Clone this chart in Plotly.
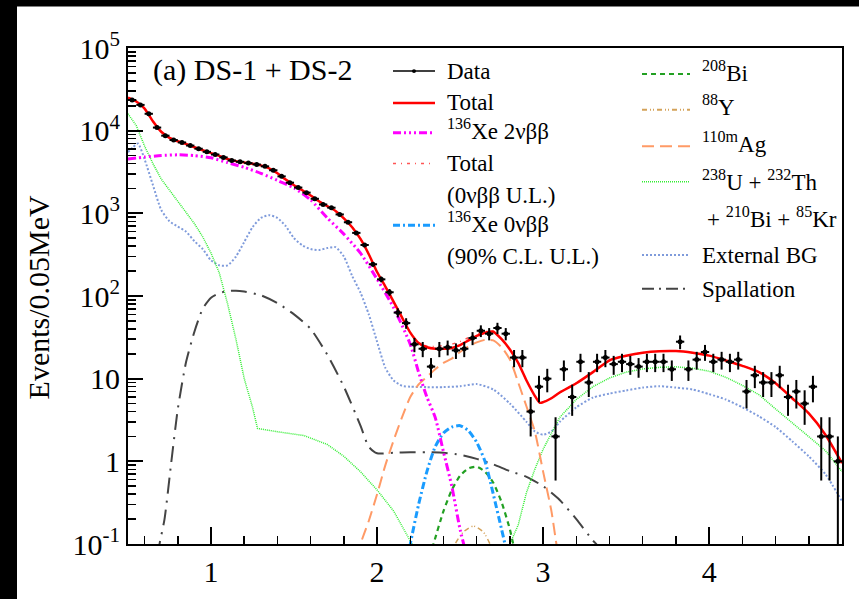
import numpy as np
import plotly.graph_objects as go

# ---------------- data ----------------
data_x = np.round(np.arange(0.525, 4.8, 0.05), 3)
data_y = [23500, 20500, 16000, 10900, 8700, 7700, 7200, 6600, 6050, 5550,
          5150, 4750, 4350, 4200, 4050, 3900, 3700, 3320, 2800, 2350,
          2050, 1780, 1500, 1280, 1170, 970, 780, 580, 414, 242,
          159, 111, 63, 47, 26, 23, 14, 23, 24, 22,
          23, 31, 38, 35, 41, 35, 18, 18, 4, 8,
          10, 2, 13, 6, 16, 9, 16, 18, 15, 16,
          15, 14, 16, 16, 16, 13, 28, 13, 17, 21,
          16, 17, 16, 17, 7, 11, 9, 9, 11, 6,
          7, 5, 8, 2, 2, 1]

tot_x = [0.5, 0.55, 0.6, 0.65, 0.7, 0.75, 0.8, 0.85, 0.9, 0.95, 1.0, 1.05, 1.1, 1.15, 1.2,
         1.25, 1.3, 1.35, 1.4, 1.45, 1.5, 1.55, 1.6, 1.65, 1.7, 1.75, 1.8, 1.85, 1.9, 1.95,
         2.0, 2.05, 2.1, 2.15, 2.2, 2.25, 2.3, 2.35, 2.4, 2.45, 2.5, 2.55, 2.6, 2.65, 2.7,
         2.75, 2.8, 2.85, 2.9, 2.95, 2.98, 3.0, 3.05, 3.1, 3.2, 3.3, 3.4, 3.5, 3.6, 3.7,
         3.8, 3.9, 4.0, 4.1, 4.2, 4.3, 4.4, 4.5, 4.6, 4.7, 4.8]
tot_y = [25000, 22500, 18500, 13000, 9700, 8200, 7450, 6900, 6300, 5800, 5350, 4950, 4550, 4280, 4120,
         3980, 3800, 3500, 3050, 2560, 2190, 1900, 1640, 1400, 1220, 1070, 870, 680, 490, 320,
         195, 130, 85, 55, 36, 27, 24, 23, 23, 23.5, 25.5, 29, 33, 36, 37,
         30, 22.5, 15.5, 9.5, 6.2, 5.1, 5.2, 5.8, 6.8, 8.8, 12.0, 16.7, 18.9, 20.6, 21.5,
         21.6, 20.6, 19.0, 16.6, 14.3, 12.0, 8.8, 5.8, 3.8, 2.1, 0.95]
totul_y = [25000, 22500, 18500, 13000, 9700, 8200, 7450, 6900, 6300, 5800, 5350, 4950, 4550, 4280, 4120,
           3980, 3800, 3500, 3050, 2560, 2190, 1900, 1640, 1400, 1220, 1070, 870, 680, 490, 320,
           195, 130, 85, 55, 36, 27.3, 24.8, 24.5, 25.2, 26.1, 28.2, 31.3, 34.7, 37, 37.4,
           30.2, 22.6, 15.5, 9.5, 6.2, 5.1, 5.2, 5.8, 6.8, 8.8, 12.0, 16.7, 18.9, 20.6, 21.5,
           21.6, 20.6, 19.0, 16.6, 14.3, 12.0, 8.8, 5.8, 3.8, 2.1, 0.95]

xe2v_x = [0.5, 0.6, 0.7, 0.8, 0.9, 1.0, 1.1, 1.2, 1.3, 1.4, 1.5, 1.6, 1.7, 1.8, 1.9, 2.0,
          2.1, 2.2, 2.25, 2.3, 2.35, 2.4, 2.45, 2.5, 2.55]
xe2v_y = [4550, 4800, 5000, 5100, 5000, 4700, 4100, 3600, 3050, 2500, 2030, 1450, 880, 560, 330, 160,
          72, 26, 12, 6, 3.4, 1.3, 0.5, 0.15, 0.06]

xe0v_x = [2.18, 2.2, 2.25, 2.3, 2.35, 2.4, 2.45, 2.5, 2.55, 2.6, 2.65, 2.7, 2.75, 2.77, 2.79]
xe0v_y = [0.06, 0.1, 0.3, 0.75, 1.5, 2.2, 2.6, 2.7, 2.35, 1.7, 1.0, 0.4, 0.15, 0.1, 0.06]

bi208_x = [2.32, 2.34, 2.4, 2.45, 2.5, 2.55, 2.6, 2.65, 2.7, 2.75, 2.8, 2.82, 2.84]
bi208_y = [0.07, 0.1, 0.25, 0.45, 0.67, 0.82, 0.86, 0.75, 0.55, 0.32, 0.15, 0.1, 0.07]

y88_x = [2.44, 2.47, 2.52, 2.58, 2.64, 2.68, 2.71]
y88_y = [0.07, 0.1, 0.14, 0.165, 0.14, 0.1, 0.07]

ag_x = [1.88, 1.9, 1.95, 2.0, 2.05, 2.1, 2.15, 2.2, 2.25, 2.3, 2.35, 2.4, 2.45, 2.5, 2.55,
        2.6, 2.65, 2.7, 2.75, 2.8, 2.85, 2.9, 2.95, 3.0, 3.05, 3.08, 3.1]
ag_y = [0.07, 0.1, 0.19, 0.4, 0.9, 1.8, 3.4, 6.0, 8.5, 10.5, 13, 15.5, 17.5, 21, 24.5,
        27.5, 29.5, 29, 24, 17, 9, 4.6, 2.3, 0.75, 0.25, 0.1, 0.06]

uth_x = [0.5, 0.55, 0.6, 0.65, 0.7, 0.75, 0.8, 0.85, 0.9, 0.95, 1.0, 1.05, 1.1, 1.15, 1.2,
         1.25, 1.28, 1.4, 1.5, 1.56, 1.7, 1.8, 1.9, 2.0, 2.1, 2.2, 2.21, 2.4, 2.6,
         2.8, 2.85, 2.9, 2.95, 3.0, 3.05, 3.1, 3.2, 3.3, 3.4, 3.5, 3.6, 3.7, 3.8, 3.9,
         4.0, 4.1, 4.2, 4.3, 4.4, 4.5, 4.6, 4.7, 4.8]
uth_y = [16000, 11500, 6500, 4000, 2600, 1900, 1400, 1000, 750, 520, 330, 190, 80, 30, 10,
         4.5, 2.5, 2.28, 2.15, 2.05, 1.6, 1.15, 0.75, 0.45, 0.25, 0.11, 0.1, 0.01, 0.01,
         0.1, 0.17, 0.42, 0.8, 1.4, 2.2, 3.4, 5.6, 8.0, 10.2, 12.0, 13.1, 13.7, 13.9, 13.4,
         12.3, 10.4, 8.3, 6.4, 4.3, 2.9, 2.0, 1.35, 0.75]

ext_x = [0.5, 0.53, 0.56, 0.6, 0.65, 0.7, 0.75, 0.8, 0.85, 0.9, 0.95, 1.0, 1.05, 1.1, 1.15,
         1.2, 1.25, 1.3, 1.35, 1.4, 1.45, 1.5, 1.55, 1.6, 1.65, 1.7, 1.75, 1.8, 1.85, 1.9,
         1.95, 2.0, 2.05, 2.1, 2.15, 2.2, 2.3, 2.4, 2.5, 2.6, 2.7, 2.8, 2.9, 2.95, 3.0,
         3.05, 3.1, 3.2, 3.3, 3.4, 3.5, 3.6, 3.7, 3.8, 3.9, 4.0, 4.1, 4.2, 4.3, 4.4,
         4.5, 4.6, 4.7, 4.8]
ext_y = [5500, 6300, 7000, 4500, 2200, 1100, 800, 690, 600, 460, 370, 270, 235, 235, 300,
         450, 680, 880, 950, 880, 700, 500, 410, 370, 360, 380, 390, 300, 175, 110,
         60, 28, 13.5, 9.5, 8.2, 8.0, 7.9, 7.9, 8.1, 8.6, 7.4, 5.0, 3.0, 2.3, 2.1,
         2.3, 3.0, 4.5, 5.9, 6.6, 7.2, 7.8, 8.1, 7.8, 7.4, 6.5, 5.6, 4.5, 3.5, 2.6,
         1.75, 1.15, 0.7, 0.33]

spal_x = [0.68, 0.69, 0.72, 0.76, 0.8, 0.85, 0.9, 0.95, 1.0, 1.05, 1.1, 1.15, 1.2, 1.3, 1.4,
          1.5, 1.6, 1.7, 1.8, 1.9, 1.95, 2.0, 2.1, 2.2, 2.3, 2.4, 2.5, 2.6, 2.7, 2.8,
          2.9, 3.0, 3.1, 3.2, 3.3, 3.32, 3.34]
spal_y = [0.07, 0.1, 0.2, 0.95, 4.3, 16, 37, 70, 95, 108, 115, 116, 113, 102, 82,
          60, 40, 19.5, 8, 2.7, 1.5, 1.25, 1.27, 1.29, 1.29, 1.27, 1.2, 1.07, 0.92, 0.76,
          0.65, 0.5, 0.34, 0.2, 0.11, 0.1, 0.07]

y_tickvals = [0.1, 1, 10, 100, 1000, 10000, 100000]
y_ticktext = ["10<sup>-1</sup>", "1", "10", "10<sup>2</sup>", "10<sup>3</sup>",
              "10<sup>4</sup>", "10<sup>5</sup>"]
y_minor = [m * 10.0 ** e for e in range(-1, 5) for m in range(2, 10)]
x_tickvals = [1, 2, 3, 4]
x_ticktext = ["1", "2", "3", "4"]

FONT = "Liberation Serif"

# -------------- colours / styles --------------
C_TOT = "#FF0000"
C_2V = "#FF00FF"
C_TUL = "#FF5555"
C_0V = "#1A9CFF"
C_BI = "#22A022"
C_Y = "#D4A25A"
C_AG = "#FF9A66"
C_UTH = "#33EE33"
C_EXT = "#7F9BDB"
C_SP = "#444444"

D_2V = "8px,3px,2px,3px,2px,3px,2px,3px"
D_TUL = "3px,5px,1px,5px"
D_0V = "7px,3px,2px,3px"
D_BI = "5px,4px"
D_Y = "5px,3px,1px,2px,1px,3px"
D_AG = "12px,6px"
D_UTH = "1px,1px"
D_EXT = "2px,2px"
D_SP = "16px,7px,2px,7px"

fig = go.Figure()


def curve(x, y, color, width, dash, shape="spline"):
    fig.add_trace(go.Scatter(x=x, y=y, mode="lines",
                             line=dict(color=color, width=width, dash=dash, shape=shape,
                                       smoothing=0.6),
                             showlegend=False, hoverinfo="skip"))


curve(spal_x, spal_y, C_SP, 2, D_SP)
curve(ext_x, ext_y, C_EXT, 2, D_EXT)
curve(uth_x, uth_y, C_UTH, 1.5, D_UTH, shape="linear")
curve(ag_x, ag_y, C_AG, 2, D_AG)
curve(y88_x, y88_y, C_Y, 1.5, D_Y)
curve(bi208_x, bi208_y, C_BI, 2.2, D_BI)
curve(xe0v_x, xe0v_y, C_0V, 3, D_0V)
curve(xe2v_x, xe2v_y, C_2V, 3, D_2V)
curve(tot_x, totul_y, C_TUL, 1.5, D_TUL)
curve(tot_x, tot_y, C_TOT, 2.5, "solid")

err_up = [float(np.sqrt(v)) for v in data_y]
err_dn = [min(float(np.sqrt(v)), v * 0.99) for v in data_y]
fig.add_trace(go.Scatter(
    x=data_x, y=data_y, mode="markers",
    marker=dict(color="black", size=5),
    error_y=dict(type="data", array=err_up, arrayminus=err_dn, color="black",
                 thickness=2, width=0),
    error_x=dict(type="constant", value=0.025, color="black", thickness=2, width=0),
    showlegend=False, hoverinfo="skip"))

# -------------- layout --------------
L, R, T, B = 128, 842, 48, 563
W, H = R - L, B - T


def px(x):
    return (x - L) / W


def py(y):
    return (B - y) / H


shapes = []
annotations = []

# black border of the scan
shapes.append(dict(type="rect", xref="paper", yref="paper", x0=px(-20), x1=px(17),
                   y0=py(620), y1=py(-20), fillcolor="black", line=dict(width=0), layer="above"))
shapes.append(dict(type="rect", xref="paper", yref="paper", x0=px(-20), x1=px(880),
                   y0=py(5), y1=py(-20), fillcolor="black", line=dict(width=0), layer="above"))


def leg_line(x0, x1, y, color, width, dash):
    shapes.append(dict(type="line", xref="paper", yref="paper", x0=px(x0), x1=px(x1),
                       y0=py(y), y1=py(y), line=dict(color=color, width=width, dash=dash)))


def leg_text(x, y, text, size=23):
    annotations.append(dict(xref="paper", yref="paper", x=px(x), y=py(y), text=text,
                            showarrow=False, xanchor="left", yanchor="middle",
                            font=dict(family=FONT, size=size, color="black")))


# left legend column
lx0, lx1, ltx = 393, 435, 445
leg_line(lx0, lx1, 72, "black", 1.5, "solid")
shapes.append(dict(type="circle", xref="paper", yref="paper", x0=px(412), x1=px(416),
                   y0=py(74), y1=py(70), fillcolor="black", line=dict(width=0)))
leg_text(ltx, 72, "Data")
leg_line(lx0, lx1, 105, C_TOT, 2.5, "solid")
leg_text(ltx, 105, "Total")
leg_line(lx0, lx1, 136, C_2V, 3, D_2V)
leg_text(ltx, 133, "<sup>136</sup>Xe 2νββ")
leg_line(lx0, lx1, 168, C_TUL, 1.5, D_TUL)
leg_text(ltx, 168, "Total")
leg_text(ltx, 201, "(0νββ U.L.)")
leg_line(lx0, lx1, 232, C_0V, 3, D_0V)
leg_text(ltx, 229, "<sup>136</sup>Xe 0νββ")
leg_text(ltx, 264, "(90% C.L. U.L.)")

# right legend column
rx0, rx1, rtx = 642, 690, 700
leg_line(rx0, rx1, 75, C_BI, 2, D_BI)
leg_text(rtx, 72, "<sup>208</sup>Bi")
leg_line(rx0, rx1, 112, C_Y, 2, D_Y)
leg_text(rtx, 108, "<sup>88</sup>Y")
leg_line(rx0, rx1, 150, C_AG, 2, D_AG)
leg_text(rtx, 146, "<sup>110m</sup>Ag")
leg_line(rx0, rx1, 187, C_UTH, 1.5, D_UTH)
leg_text(rtx, 186, "<sup>238</sup>U + <sup>232</sup>Th")
leg_text(rtx + 5, 224, "+ <sup>210</sup>Bi + <sup>85</sup>Kr")
leg_line(rx0, rx1, 263, C_EXT, 2, D_EXT)
leg_text(rtx, 263, "External BG")
leg_line(rx0, rx1, 298, C_SP, 2, "12px,5px,2px,5px")
leg_text(rtx, 299, "Spallation")

# panel label
annotations.append(dict(xref="paper", yref="paper", x=px(151), y=py(71), text="(a) DS-1 + DS-2",
                        showarrow=False, xanchor="left", yanchor="middle",
                        font=dict(family=FONT, size=30, color="black")))
# y-axis title
annotations.append(dict(xref="paper", yref="paper", x=px(38), y=py(307), text="Events/0.05MeV",
                        showarrow=False, xanchor="center", yanchor="middle", textangle=-90,
                        font=dict(family=FONT, size=30, color="black")))

fig.update_layout(
    width=859, height=600, autosize=False,
    margin=dict(l=L, r=859 - R, t=T, b=600 - B, pad=0),
    paper_bgcolor="white", plot_bgcolor="white",
    showlegend=False,
    shapes=shapes, annotations=annotations,
    font=dict(family=FONT, color="black"),
    xaxis=dict(range=[0.5, 4.8], tickmode="array", tickvals=x_tickvals, ticktext=x_ticktext,
               ticks="inside", ticklen=17, tickwidth=2, tickcolor="black",
               showline=True, linewidth=2, linecolor="black", mirror=True,
               showgrid=False, zeroline=False,
               tickfont=dict(family=FONT, size=30, color="black"),
               minor=dict(dtick=0.2, tick0=0, ticks="inside", ticklen=8, tickwidth=1.5,
                          tickcolor="black", showgrid=False)),
    yaxis=dict(type="log", range=[-1, 5], tickmode="array", tickvals=y_tickvals,
               ticktext=y_ticktext,
               ticks="inside", ticklen=15, tickwidth=2, tickcolor="black",
               showline=True, linewidth=2, linecolor="black", mirror=True,
               showgrid=False, zeroline=False,
               tickfont=dict(family=FONT, size=30, color="black"),
               minor=dict(tickmode="array", tickvals=y_minor, ticks="inside", ticklen=8,
                          tickwidth=1.5, tickcolor="black", showgrid=False)),
)

fig.write_html("out.html",
               config={"displayModeBar": False, "staticPlot": True},
               post_script="document.body.style.margin='0';document.body.style.padding='0';"
                           "document.body.style.overflow='hidden';")
